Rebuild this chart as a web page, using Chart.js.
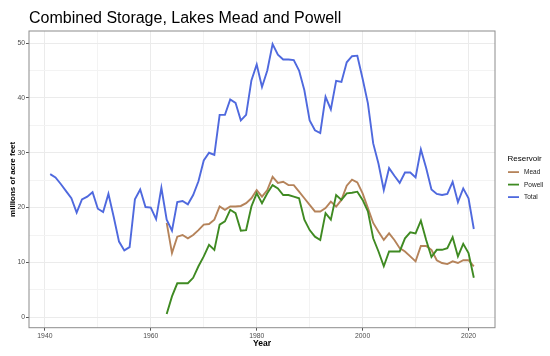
<!DOCTYPE html>
<html>
<head>
<meta charset="utf-8">
<script src="https://cdn.jsdelivr.net/npm/chart.js@4"></script>
<style>
    html, body { margin: 0; padding: 0; background: #fff; }
    #wrap { width: 550px; height: 356px; }
</style>
</head>
<body>
<div id="wrap"><canvas id="storageChart" width="550" height="356"></canvas></div>
<script>
// values (millions of acre feet)
const totalYears = [];
for (let y = 1941; y <= 2021; y++) totalYears.push(y);
const totalValues = [
    26.1, 25.5, 24.3, 23.0, 21.7, 19.1, 21.5, 22.0, 22.8, 19.8,
    19.2, 22.5, 18.3, 13.8, 12.2, 12.8, 21.5, 23.3, 20.1, 20.0,
    17.9, 23.6, 17.8, 15.8, 21.0, 21.2, 20.6, 22.3, 24.8, 28.6,
    30.0, 29.6, 36.9, 36.9, 39.7, 39.1, 35.9, 36.9, 43.2, 46.1,
    42.0, 45.0, 49.8, 47.9, 47.0, 47.0, 46.9, 45.0, 41.4, 35.9,
    34.1, 33.6, 40.2, 37.9, 43.1, 42.9, 46.5, 47.6, 47.7, 43.5,
    39.0, 31.7, 28.0, 23.2, 27.2, 25.8, 24.5, 26.4, 26.4, 25.5,
    30.6, 27.2, 23.3, 22.5, 22.3, 22.5, 24.7, 21.0, 23.5, 21.7,
    16.1
];

const reservoirYears = [];
for (let y = 1963; y <= 2021; y++) reservoirYears.push(y);
const meadValues = [
    17.2, 11.7, 14.7, 15.0, 14.4, 15.0, 15.9, 16.9, 17.0, 17.8,
    20.2, 19.6, 20.2, 20.2, 20.3, 20.8, 21.7, 23.2, 22.0, 23.2,
    25.6, 24.5, 24.7, 24.1, 24.1, 22.9, 21.7, 20.5, 19.3, 19.3,
    19.9, 21.1, 20.2, 21.4, 24.0, 25.1, 24.6, 22.6, 19.9, 17.2,
    15.6, 14.1, 15.3, 14.1, 12.6, 12.0, 11.1, 10.2, 13.0, 13.0,
    12.3, 10.4, 9.9, 9.7, 10.2, 9.9, 10.4, 10.4, 9.3
];
const powellValues = [
    0.6, 3.8, 6.2, 6.2, 6.2, 7.2, 9.3, 11.1, 13.2, 12.3,
    16.9, 17.5, 19.6, 19.0, 15.8, 15.9, 20.2, 22.6, 20.8, 22.6,
    24.1, 23.5, 22.3, 22.3, 22.0, 21.7, 17.8, 15.9, 14.7, 14.1,
    19.0, 17.8, 22.3, 21.4, 22.6, 22.7, 22.9, 21.4, 19.3, 14.4,
    12.0, 9.3, 12.0, 12.0, 12.0, 14.4, 15.5, 15.3, 17.6, 14.1,
    11.0, 12.3, 12.3, 12.6, 14.6, 11.1, 13.4, 11.7, 7.2
];

const xTicks = [1940, 1950, 1960, 1970, 1980, 1990, 2000, 2010, 2020];
const yTicks = [0, 5, 10, 15, 20, 25, 30, 35, 40, 45, 50];

const FONT = '"Liberation Sans", Arial, sans-serif';

function toPoints(years, values) {
    return years.map((yr, i) => ({ x: yr, y: values[i] }));
}

function isMajor(v, step) {
    return v % step === 0;
}

// title, panel border and the legend on the right
const decorPlugin = {
    id: 'decor',
    afterDraw(chart) {
        const ctx = chart.ctx;
        const area = chart.chartArea;
        ctx.save();

        ctx.strokeStyle = '#8c8c8c';
        ctx.lineWidth = 1;
        ctx.strokeRect(area.left, area.top, area.right - area.left, area.bottom - area.top);

        ctx.fillStyle = '#000';
        ctx.font = '16px ' + FONT;
        ctx.textBaseline = 'alphabetic';
        ctx.textAlign = 'left';
        ctx.fillText('Combined Storage, Lakes Mead and Powell', 29, 23.3);

        ctx.font = '8px ' + FONT;
        ctx.fillText('Reservoir', 507.5, 161);

        const order = ['Mead', 'Powell', 'Total'];
        ctx.font = '6.5px ' + FONT;
        order.forEach((name, i) => {
            const ds = chart.data.datasets.find(d => d.label === name);
            const base = 174.3 + i * 12.5;
            ctx.strokeStyle = ds.borderColor;
            ctx.lineWidth = 1.8;
            ctx.beginPath();
            ctx.moveTo(508, base - 2.2);
            ctx.lineTo(519, base - 2.2);
            ctx.stroke();
            ctx.fillStyle = '#1a1a1a';
            ctx.fillText(name, 524, base);
        });
        ctx.restore();
    }
};

const ctx = document.getElementById('storageChart').getContext('2d');
const chart = new Chart(ctx, {
    type: 'line',
    data: {
        datasets: [
            {
                label: 'Mead',
                data: toPoints(reservoirYears, meadValues),
                borderColor: '#b5835a',
                order: 2
            },
            {
                label: 'Powell',
                data: toPoints(reservoirYears, powellValues),
                borderColor: '#3f8a22',
                order: 1
            },
            {
                label: 'Total',
                data: toPoints(totalYears, totalValues),
                borderColor: '#4f69de',
                order: 0
            }
        ]
    },
    options: {
        responsive: false,
        animation: false,
        devicePixelRatio: 1,
        elements: {
            point: { radius: 0 },
            line: { borderWidth: 1.9, tension: 0, fill: false }
        },
        layout: { padding: { left: 0, right: 55, top: 31, bottom: 0 } },
        plugins: {
            legend: { display: false },
            tooltip: { enabled: false },
            title: { display: false }
        },
        scales: {
            x: {
                type: 'linear',
                min: 1937,
                max: 2025,
                afterBuildTicks(scale) {
                    scale.ticks = xTicks.map(v => ({ value: v }));
                },
                afterFit(scale) {
                    scale.height = 28.3;
                },
                border: { display: false },
                grid: {
                    color: c => isMajor(c.tick.value, 20) ? '#ebebeb' : '#f3f3f3',
                    tickColor: c => isMajor(c.tick.value, 20) ? '#555' : 'rgba(0,0,0,0)',
                    tickLength: 3,
                    lineWidth: 1
                },
                ticks: {
                    autoSkip: false,
                    maxRotation: 0,
                    padding: 1,
                    color: '#4d4d4d',
                    font: { family: FONT, size: 6.8 },
                    callback: v => isMajor(v, 20) ? String(v) : ''
                },
                title: {
                    display: true,
                    text: 'Year',
                    color: '#000',
                    font: { family: FONT, size: 8.5, weight: 'bold' },
                    padding: { top: 0, bottom: 7.2 }
                }
            },
            y: {
                type: 'linear',
                min: -1.9,
                max: 52.2,
                afterBuildTicks(scale) {
                    scale.ticks = yTicks.map(v => ({ value: v }));
                },
                afterFit(scale) {
                    scale.width = 29;
                },
                border: { display: false },
                grid: {
                    color: c => isMajor(c.tick.value, 10) ? '#ebebeb' : '#f3f3f3',
                    tickColor: c => isMajor(c.tick.value, 10) ? '#555' : 'rgba(0,0,0,0)',
                    tickLength: 3,
                    lineWidth: 1
                },
                ticks: {
                    autoSkip: false,
                    padding: 1,
                    color: '#4d4d4d',
                    font: { family: FONT, size: 6.8 },
                    callback: v => isMajor(v, 10) ? String(v) : ''
                },
                title: {
                    display: true,
                    text: 'millions of acre feet',
                    color: '#000',
                    font: { family: FONT, size: 8, weight: 'bold' },
                    padding: { top: 7.7, bottom: 0 }
                }
            }
        }
    },
    plugins: [decorPlugin]
});
</script>
</body>
</html>
